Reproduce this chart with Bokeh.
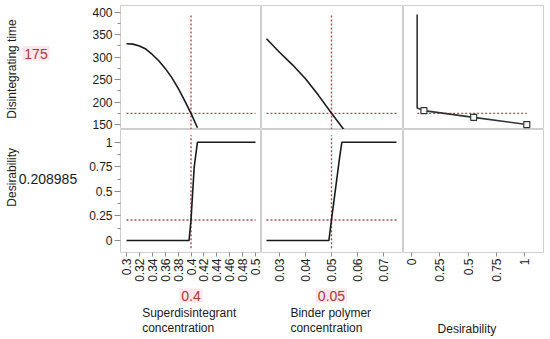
import math
from bokeh.plotting import figure
from bokeh.layouts import column, row, Spacer
from bokeh.models import Range1d, FixedTicker, LinearAxis
from bokeh.embed import file_html
from bokeh.resources import INLINE
from bokeh.core.properties import value

# ---------------- data ----------------
super_x = [0.30, 0.31, 0.32, 0.33, 0.34, 0.35, 0.36, 0.37, 0.38, 0.39, 0.40, 0.41]
super_time = [330, 329, 325, 318, 306, 292, 275, 255, 231, 204, 175, 143]

binder_x = [0.025, 0.030, 0.035, 0.040, 0.045, 0.050, 0.055]
binder_time = [341, 311, 283, 252, 215, 175, 137]

desir_curve_d = [0.05, 0.05, 0.11, 0.55, 1.02]
desir_curve_time = [395, 187, 181, 166, 150]
desir_marker_d = [0.11, 0.55, 1.02]
desir_marker_time = [181, 166, 150]

super_d_x = [0.30, 0.397, 0.400, 0.405, 0.410, 0.50]
super_d = [0, 0, 0.209, 0.75, 1, 1]
binder_d_x = [0.025, 0.049, 0.050, 0.0532, 0.054, 0.075]
binder_d = [0, 0, 0.209, 0.86, 1, 1]

current_super = 0.4
current_binder = 0.05
current_time = 175
current_desirability = 0.208985
current_super_label = "0.4"
current_binder_label = "0.05"
current_time_label = "175"
current_desirability_label = "0.208985"

time_ticks = [150, 200, 250, 300, 350, 400]
time_tick_labels = ["150", "200", "250", "300", "350", "400"]
time_minor = [175, 225, 275, 325, 375]
desir_ticks = [0, 0.25, 0.5, 0.75, 1]
desir_tick_labels = ["0", "0.25", "0.5", "0.75", "1"]
desir_minor = [0.125, 0.375, 0.625, 0.875]
super_ticks = [0.3, 0.32, 0.34, 0.36, 0.38, 0.4, 0.42, 0.44, 0.46, 0.48, 0.5]
super_tick_labels = ["0.3", "0.32", "0.34", "0.36", "0.38", "0.4", "0.42", "0.44", "0.46", "0.48", "0.5"]
binder_ticks = [0.03, 0.04, 0.05, 0.06, 0.07]
binder_tick_labels = ["0.03", "0.04", "0.05", "0.06", "0.07"]
dval_ticks = [0, 0.25, 0.5, 0.75, 1]
dval_tick_labels = ["0", "0.25", "0.5", "0.75", "1"]

factor_names = [["Superdisintegrant", "concentration"], ["Binder polymer", "concentration"]]
response_names = ["Disintegrating time", "Desirability"]
dval_name = "Desirability"

# ---------------- style ----------------
FONT = "Liberation Sans"
OUTLINE = "#cfcfcf"
CURVE = "#1a1a1a"
REF = "#b04848"
VALRED = "#a83a3a"
PINK = "#fce6ea"

time_range = Range1d(139, 415)
d_range = Range1d(-0.122, 1.129)
super_range = Range1d(0.2907, 0.5093)
binder_range = Range1d(0.02308, 0.07769)
dval_range = Range1d(-0.0708, 1.168)

TOP = 5
ROW1 = 124
ROW2 = 123
XAX_H = 34
LEFT_W = 82
YAX_W = 38
FR1, FR2, FR3 = 141, 142, 140
RIGHT = 5
BOT_H = 50


def make_fig(xr, yr, w, h, left=0, bottom=0, right=0, top=0, outline=True):
    p = figure(width=w, height=h, x_range=xr, y_range=yr,
               x_axis_type=None, y_axis_type=None,
               output_backend="svg", toolbar_location=None,
               min_border_left=left, min_border_right=right,
               min_border_top=top, min_border_bottom=bottom)
    p.outline_line_color = OUTLINE if outline else None
    p.background_fill_color = "white"
    p.border_fill_color = "white"
    return p


def style_axis(ax, ticks, labels, minors=None):
    ax.ticker = FixedTicker(ticks=ticks, minor_ticks=minors or [])
    ax.major_label_overrides = {t: l for t, l in zip(ticks, labels)}
    ax.major_label_text_font = FONT
    ax.major_label_text_font_size = "12px"
    ax.major_label_text_color = "#1a1a1a"
    ax.axis_line_color = None
    ax.major_tick_line_color = "#8c8c8c"
    ax.minor_tick_line_color = "#8c8c8c"
    ax.major_tick_out = 6
    ax.major_tick_in = 0
    ax.minor_tick_out = 3
    ax.minor_tick_in = 0
    ax.major_label_standoff = 2


def ref_line(p, x0, y0, x1, y1):
    p.segment(x0=[x0], y0=[y0], x1=[x1], y1=[y1], line_color=REF,
              line_width=1.4, line_dash="2 2")


# ---------------- row 1 ----------------
H1 = TOP + ROW1
t1 = make_fig(Range1d(0, LEFT_W), Range1d(H1, 0), LEFT_W, H1, outline=False)
t1.text(x=[11.7], y=[66], text=[response_names[0]], angle=math.pi / 2,
        text_align="center", text_baseline="middle", text_font=value(FONT),
        text_font_size="12px", text_color="#1a1a1a")
t1.rect(x=[35.5], y=[50], width=27, height=15, fill_color=PINK, line_color=None)
t1.text(x=[35.5], y=[50], text=[current_time_label], text_align="center",
        text_baseline="middle", text_font=value(FONT), text_font_size="14px",
        text_color=VALRED)

p11 = make_fig(super_range, time_range, YAX_W + FR1, H1, left=YAX_W, top=TOP)
yax = LinearAxis()
style_axis(yax, time_ticks, time_tick_labels, time_minor)
p11.add_layout(yax, "left")
ref_line(p11, current_super, 139, current_super, 397)
ref_line(p11, super_ticks[0], current_time, super_ticks[-1], current_time)
p11.line(super_x, super_time, line_color=CURVE, line_width=1.6)

p12 = make_fig(binder_range, time_range, FR2, H1, top=TOP)
ref_line(p12, current_binder, 139, current_binder, 397)
ref_line(p12, binder_x[0], current_time, binder_x[0] + 0.05, current_time)
p12.line(binder_x, binder_time, line_color=CURVE, line_width=1.6)

p13 = make_fig(dval_range, time_range, FR3 + RIGHT, H1, right=RIGHT, top=TOP)
ref_line(p13, desir_curve_d[0], current_time, desir_curve_d[-1], current_time)
p13.line(desir_curve_d, desir_curve_time, line_color="#333333", line_width=1.6)
p13.scatter(desir_marker_d, desir_marker_time, marker="square", size=6,
            fill_color="white", line_color="#333333", line_width=1.2)

# ---------------- row 2 ----------------
H2 = ROW2 + XAX_H
t2 = make_fig(Range1d(0, LEFT_W), Range1d(H2, 0), LEFT_W, H2, outline=False)
t2.text(x=[11.7], y=[61], text=[response_names[1]], angle=math.pi / 2,
        text_align="center", text_baseline="middle", text_font=value(FONT),
        text_font_size="12px", text_color="#1a1a1a")
t2.text(x=[47.5], y=[63], text=[current_desirability_label], text_align="center",
        text_baseline="middle", text_font=value(FONT), text_font_size="14px",
        text_color="#1a1a1a")

p21 = make_fig(super_range, d_range, YAX_W + FR1, H2, left=YAX_W, bottom=XAX_H)
yax2 = LinearAxis()
style_axis(yax2, desir_ticks, desir_tick_labels, desir_minor)
p21.add_layout(yax2, "left")
xax1 = LinearAxis()
style_axis(xax1, super_ticks, super_tick_labels)
xax1.major_label_orientation = math.pi / 2
xax1.major_tick_out = 4
p21.add_layout(xax1, "below")
ref_line(p21, current_super, -0.08, current_super, 1.07)
ref_line(p21, super_ticks[0], current_desirability, super_ticks[-1], current_desirability)
p21.line(super_d_x, super_d, line_color=CURVE, line_width=1.6)

p22 = make_fig(binder_range, d_range, FR2, H2, bottom=XAX_H)
xax2 = LinearAxis()
style_axis(xax2, binder_ticks, binder_tick_labels)
xax2.major_label_orientation = math.pi / 2
xax2.major_tick_out = 4
p22.add_layout(xax2, "below")
ref_line(p22, current_binder, -0.08, current_binder, 1.07)
ref_line(p22, binder_d_x[0], current_desirability, binder_d_x[-1], current_desirability)
p22.line(binder_d_x, binder_d, line_color=CURVE, line_width=1.6)

p23 = make_fig(dval_range, d_range, FR3 + RIGHT, H2, bottom=XAX_H, right=RIGHT)
xax3 = LinearAxis()
style_axis(xax3, dval_ticks, dval_tick_labels)
xax3.major_label_orientation = math.pi / 2
xax3.major_tick_out = 4
p23.add_layout(xax3, "below")

# ---------------- bottom labels ----------------
bot_y = Range1d(BOT_H, 0)
b1 = make_fig(super_range, bot_y, YAX_W + FR1, BOT_H, left=YAX_W, outline=False)
b1.rect(x=[current_super], y=[9], width=23, height=14, width_units="screen",
        height_units="screen", fill_color=PINK, line_color=None)
b1.text(x=[current_super], y=[9], text=[current_super_label], text_align="center",
        text_baseline="middle", text_font=value(FONT), text_font_size="14px",
        text_color=VALRED)
b1.text(x=[0.3243, 0.3243], y=[26, 41], text=factor_names[0], text_align="left",
        text_baseline="middle", text_font=value(FONT), text_font_size="12px",
        text_color="#1a1a1a")

b2 = make_fig(binder_range, bot_y, FR2, BOT_H, outline=False)
b2.rect(x=[current_binder], y=[9], width=31, height=14, width_units="screen",
        height_units="screen", fill_color=PINK, line_color=None)
b2.text(x=[current_binder], y=[9], text=[current_binder_label], text_align="center",
        text_baseline="middle", text_font=value(FONT), text_font_size="14px",
        text_color=VALRED)
b2.text(x=[0.0342, 0.0342], y=[26, 41], text=factor_names[1], text_align="left",
        text_baseline="middle", text_font=value(FONT), text_font_size="12px",
        text_color="#1a1a1a")

b3 = make_fig(dval_range, bot_y, FR3 + RIGHT, BOT_H, right=RIGHT, outline=False)
b3.text(x=[0.49], y=[42], text=[dval_name], text_align="center",
        text_baseline="middle", text_font=value(FONT), text_font_size="12px",
        text_color="#1a1a1a")

layout = column(
    row(t1, p11, p12, p13, spacing=0),
    row(t2, p21, p22, p23, spacing=0),
    row(Spacer(width=LEFT_W, height=BOT_H), b1, b2, b3, spacing=0),
    spacing=0,
)

open("out.html", "w").write(file_html(layout, INLINE))
